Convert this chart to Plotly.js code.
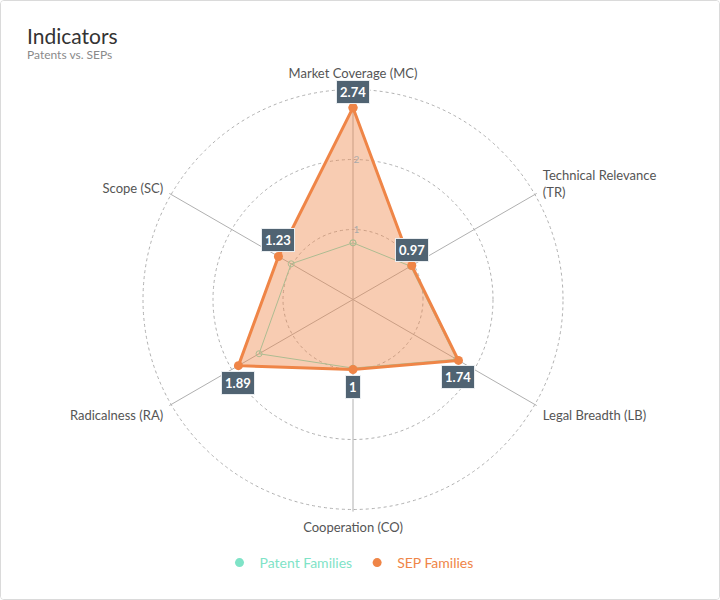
<!DOCTYPE html>
<html>
<head>
<meta charset="utf-8">
<script src="https://cdn.plot.ly/plotly-3.0.1.min.js"></script>
<style>
  body { margin: 0; background: #fff; }
  #card {
    width: 720px; height: 600px; box-sizing: border-box;
    border: 1px solid #dadada; border-radius: 4px; overflow: hidden;
  }
  #chart { width: 718px; height: 598px; }
</style>
</head>
<body>
<div id="card"><div id="chart"></div></div>
<script>
const categories = [
  'Market Coverage (MC)',
  'Technical Relevance<br>(TR)',
  'Legal Breadth (LB)',
  'Cooperation (CO)',
  'Radicalness (RA)',
  'Scope (SC)'
];
const patentValues = [0.81, 0.95, 1.71, 0.98, 1.55, 1.02];
const sepValues = [2.74, 0.97, 1.74, 1, 1.89, 1.23];
const radialTicks = [1, 2, 3];

const W = 718, H = 598;
// polar centre and pixels per unit; range runs slightly past 3 so the outer ring is drawn
const cx = 352, cy = 298.5, unit = 70, rMax = 3.03;
const R = unit * rMax;
const domX = [(cx - R) / W, (cx + R) / W];
const domY = [(H - cy - R) / H, (H - cy + R) / H];

const orange = '#ef8547';
const mint = '#7fe3c7';
const font = 'Lato, "Fira Sans", "Open Sans", sans-serif';

const closed = arr => arr.concat([arr[0]]);

const traces = [
  {
    type: 'scatterpolar',
    r: closed(patentValues),
    theta: closed(categories),
    mode: 'lines+markers',
    name: 'Patent Families',
    line: { color: mint, width: 1 },
    marker: { size: 6, color: 'rgba(0,0,0,0)', line: { color: mint, width: 1 } },
    showlegend: false,
    hoverinfo: 'skip'
  },
  {
    type: 'scatterpolar',
    r: closed(sepValues),
    theta: closed(categories),
    mode: 'lines+markers',
    fill: 'toself',
    fillcolor: 'rgba(239,133,71,0.42)',
    name: 'SEP Families',
    line: { color: orange, width: 3 },
    marker: { size: 9, color: orange },
    showlegend: false,
    hoverinfo: 'skip'
  },
  {
    type: 'scatterpolar',
    r: [null], theta: [categories[0]],
    mode: 'markers',
    name: '<span style="color:' + mint + '">Patent Families</span>',
    marker: { size: 9, color: mint }
  },
  {
    type: 'scatterpolar',
    r: [null], theta: [categories[0]],
    mode: 'markers',
    name: '<span style="color:' + orange + '">SEP Families</span>',
    marker: { size: 9, color: orange }
  }
];

// value badges, placed from the data through the polar geometry
const annotations = sepValues.map((v, i) => {
  const ang = (i / categories.length) * 2 * Math.PI;
  const px = cx + Math.sin(ang) * v * unit;
  const py = cy - Math.cos(ang) * v * unit;
  const up = Math.cos(ang) > 0.01;
  return {
    x: px / W, y: 1 - py / H, xref: 'paper', yref: 'paper',
    xanchor: 'center', yanchor: 'middle',
    text: '<b>' + v + '</b>', showarrow: false,
    yshift: up ? 16 : -17,
    bgcolor: '#506372', bordercolor: '#e9edf0', borderwidth: 1, borderpad: 3,
    font: { family: font, size: 13, color: '#ffffff' }
  };
});

annotations.push(
  {
    text: 'Indicators', x: 24 / W, y: 1 - 35 / H, xref: 'paper', yref: 'paper',
    xanchor: 'left', yanchor: 'middle', showarrow: false,
    font: { family: font, size: 21, color: '#333' }
  },
  {
    text: 'Patents vs. SEPs', x: 24 / W, y: 1 - 54 / H, xref: 'paper', yref: 'paper',
    xanchor: 'left', yanchor: 'middle', showarrow: false,
    font: { family: font, size: 12, color: '#8a8a8a' }
  }
);

const layout = {
  width: W, height: H,
  margin: { l: 0, r: 0, t: 0, b: 0 },
  paper_bgcolor: '#fff',
  font: { family: font, size: 13, color: '#555' },
  polar: {
    domain: { x: domX, y: domY },
    bgcolor: 'rgba(0,0,0,0)',
    radialaxis: {
      range: [0, rMax],
      tickvals: radialTicks,
      angle: 90,
      tickangle: 90,
      showline: false,
      ticks: '',
      gridcolor: '#b0b0b0',
      griddash: 'dot',
      gridwidth: 1,
      tickfont: { size: 10, color: '#aaa' }
    },
    angularaxis: {
      direction: 'clockwise',
      rotation: 90,
      showline: false,
      ticks: 'outside',
      ticklen: 4,
      tickcolor: 'rgba(0,0,0,0)',
      gridcolor: '#b0b0b0',
      gridwidth: 1,
      tickfont: { size: 13, color: '#555' }
    }
  },
  showlegend: true,
  legend: {
    orientation: 'h', x: 348 / W, xanchor: 'center', y: 1 - 562 / H, yanchor: 'middle',
    font: { family: font, size: 14 }, itemwidth: 30
  },
  annotations: annotations
};

Plotly.newPlot('chart', traces, layout, { displayModeBar: false, staticPlot: true });
</script>
</body>
</html>
